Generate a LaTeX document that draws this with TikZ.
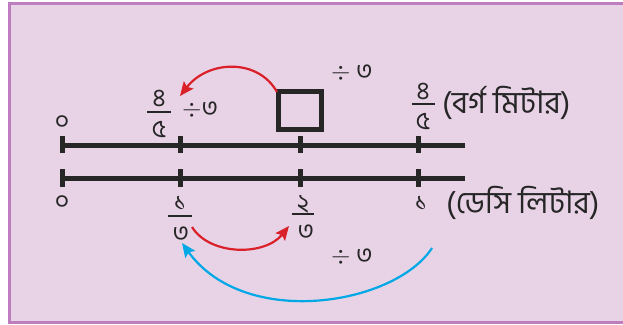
\documentclass[tikz,border=0pt]{standalone}
\usepackage{fontspec}
\newfontfamily\bn[Script=Bengali]{Hind Siliguri}
\usetikzlibrary{arrows.meta}
\definecolor{bgfill}{RGB}{232,211,230}
\definecolor{bordcol}{RGB}{190,125,190}
\definecolor{inkcol}{RGB}{38,38,38}
\definecolor{redcol}{RGB}{218,32,40}
\definecolor{bluecol}{RGB}{0,168,230}
\tikzset{
  axis/.style={inkcol, line width=5pt},
  tickmark/.style={inkcol, line width=5pt},
  bnum/.style={font=\bn\fontsize{25}{25}\selectfont, text=inkcol, inner sep=0pt},
  blabel/.style={font=\bn\fontsize{31}{31}\selectfont, text=inkcol, inner sep=0pt},
  dlabel/.style={font=\bn\fontsize{25}{25}\selectfont, text=inkcol, inner sep=0pt},
  fbar/.style={inkcol, line width=1.8pt},
  redarrow/.style={redcol, line width=2.2pt, -{Stealth[length=14pt,width=12pt,inset=2.5pt]}},
  bluearrow/.style={bluecol, line width=2.2pt, -{Stealth[length=14pt,width=12pt,inset=2.5pt]}},
  squarebox/.style={draw=inkcol, line width=5pt, minimum width=43pt, minimum height=38pt, inner sep=0pt}
}
\begin{document}
\begin{tikzpicture}[x=1pt,y=-1pt]
\useasboundingbox (0,0) rectangle (623,324);
\fill[bgfill] (9,3) rectangle (630,323);
\draw[bordcol, line width=3pt] (630,3.5) -- (9.5,3.5) -- (9.5,322.5) -- (630,322.5);

% axes
\draw[axis] (62,145) -- (465,145);
\draw[axis] (62,178) -- (465,178);
\foreach \x in {62,180,300,418} {
  \draw[tickmark] (\x,136) -- (\x,153);
  \draw[tickmark] (\x,169) -- (\x,187);
}

% top labels
\node[bnum] (t0) at (62,123) {০};
\node[bnum] (tan) at (159,98) {৪};
\node[bnum] (tad) at (159,129) {৫};
\draw[fbar] (147,112) -- (171,112);
\node[dlabel, anchor=west] (tdiv) at (182,110) {$\div$৩};
\node[squarebox] (box) at (300,110.5) {};
\node[dlabel] (topdiv) at (352,73) {$\div$ ৩};
\node[bnum] (tbn) at (423,91) {৪};
\node[bnum] (tbd) at (423,121) {৫};
\draw[fbar] (412,104) -- (435,104);
\node[blabel, anchor=west] (unit1) at (442,103) {(বর্গ মিটার)};

% bottom labels
\node[bnum] (b0) at (62,203) {০};
\node[bnum] (ban) at (180,203) {১};
\node[bnum] (bad) at (181,234) {৩};
\draw[fbar] (168,216) -- (192,216);
\node[bnum] (bbn) at (303,204) {২};
\node[bnum] (bbd) at (306,232) {৩};
\draw[fbar] (292,214) -- (314,214);
\node[bnum] (b1) at (421,203) {১};
\node[blabel, anchor=west] (unit2) at (446,203) {(ডেসি লিটার)};
\node[dlabel] (botdiv) at (352,257) {$\div$ ৩};

% arrows
\coordinate (r1s) at (277,92);
\coordinate (r1e) at (180,96);
\coordinate (r2s) at (192,227);
\coordinate (r2e) at (289,226);
\coordinate (bls) at (432,248);
\coordinate (ble) at (182,243);
\draw[redarrow] (r1s) .. controls (258,58) and (208,60) .. (r1e);
\draw[redarrow] (r2s) .. controls (210,256) and (265,256) .. (r2e);
\draw[bluearrow] (bls) .. controls (395,305) and (245,330) .. (ble);
\end{tikzpicture}
\end{document}
